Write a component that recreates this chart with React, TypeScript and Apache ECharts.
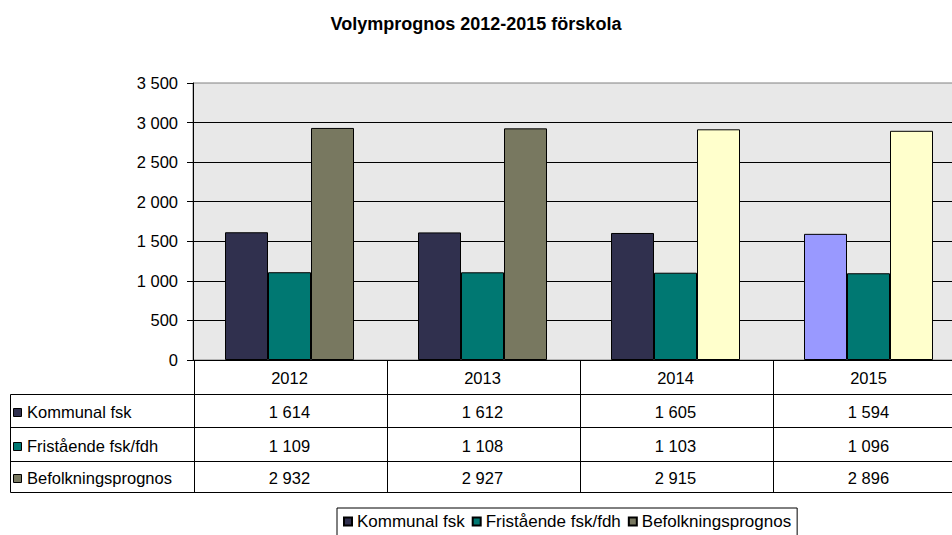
import React, { useEffect, useRef } from "react";
import * as echarts from "echarts";

const title = "Volymprognos 2012-2015 förskola";
const categories = ["2012", "2013", "2014", "2015"];
const seriesNames = ["Kommunal fsk", "Fristående fsk/fdh", "Befolkningsprognos"];
const kommunal = [1614, 1612, 1605, 1594];
const fristaende = [1109, 1108, 1103, 1096];
const befolkning = [2932, 2927, 2915, 2896];
const yMin = 0;
const yMax = 3500;
const yStep = 500;

const FONT = '"Liberation Sans", Arial, sans-serif';
const FS = 16.5;
const NAVY = "#30304e";
const PURPLE = "#9999ff";
const TEAL = "#007872";
const OLIVE = "#787860";
const YELLOW = "#ffffcc";

function fmt(v: number): string {
  if (v >= 1000) {
    return `${Math.floor(v / 1000)} ${String(v % 1000).padStart(3, "0")}`;
  }
  return String(v);
}

export default function App() {
  const ref = useRef<HTMLDivElement>(null);

  useEffect(() => {
    document.body.style.margin = "0";
    if (!ref.current) return;
    const chart = echarts.init(ref.current, null, { renderer: "svg" });

    const seriesData = [kommunal, fristaende, befolkning];
    const baseColors = [NAVY, TEAL, OLIVE];
    const overrides: Record<string, string> = {
      "0-3": PURPLE,
      "2-2": YELLOW,
      "2-3": YELLOW,
    };

    const series = seriesData.map((arr, si) => ({
      name: seriesNames[si],
      type: "bar",
      barWidth: 43,
      barGap: "0%",
      itemStyle: { color: baseColors[si], borderColor: "#000", borderWidth: 1 },
      data: arr.map((v, i) => {
        const c = overrides[`${si}-${i}`];
        return c ? { value: v, itemStyle: { color: c } } : v;
      }),
    }));

    const option: any = {
      animation: false,
      title: {
        text: title,
        left: "center",
        top: 10,
        textStyle: { fontFamily: FONT, fontSize: 18, fontWeight: "bold", color: "#000" },
      },
      grid: {
        left: 193,
        top: 83,
        width: 772,
        height: 277,
        outerBoundsMode: "none",
        containLabel: false,
        show: true,
        backgroundColor: "#e8e8e8",
        borderColor: "#808080",
        borderWidth: 1,
      },
      legend: {
        data: seriesNames,
        left: 337,
        top: 508,
        icon: "rect",
        itemWidth: 8,
        itemHeight: 8,
        itemGap: 7,
        padding: [5, 6, 12, 6],
        borderColor: "#000",
        borderWidth: 1,
        textStyle: { fontFamily: FONT, fontSize: 17, color: "#000" },
      },
      xAxis: {
        type: "category",
        data: categories,
        axisLine: { show: true, lineStyle: { color: "#000", width: 1 } },
        axisTick: { show: false },
        axisLabel: { show: false },
      },
      yAxis: {
        type: "value",
        min: yMin,
        max: yMax,
        interval: yStep,
        axisLine: { show: true, lineStyle: { color: "#000", width: 1 } },
        axisTick: { show: true, length: 6, lineStyle: { color: "#000" } },
        axisLabel: {
          margin: 15,
          fontFamily: FONT,
          fontSize: FS,
          color: "#000",
          formatter: (v: number) => fmt(v),
        },
        splitLine: { show: true, showMaxLine: false, lineStyle: { color: "#000", width: 1 } },
      },
      series,
    };

    chart.setOption(option);

    // Build data table below the plot using the axis scales
    const c0 = chart.convertToPixel({ xAxisIndex: 0 }, 0) as number;
    const c1 = chart.convertToPixel({ xAxisIndex: 0 }, 1) as number;
    const colW = c1 - c0;
    const yBase = Math.round(chart.convertToPixel({ yAxisIndex: 0 }, 0) as number) + 0.5;
    const rowLines = [yBase, yBase + 34, yBase + 67, yBase + 101, yBase + 132];
    const leftX = 10.5;
    const firstX = Math.round(c0 - colW / 2) + 0.5;
    const rightX = firstX + colW * categories.length;
    const stroke = { stroke: "#000", lineWidth: 1 };
    const graphics: any[] = [];
    const txt = (text: string, x: number, y: number, align: string) => ({
      type: "text",
      x,
      y,
      style: { text, fontFamily: FONT, fontSize: FS, fill: "#000", textAlign: align, textVerticalAlign: "middle" },
      silent: true,
    });

    rowLines.forEach((y, i) => {
      if (i === 0) return;
      graphics.push({ type: "line", shape: { x1: leftX, y1: y, x2: rightX, y2: y }, style: stroke, silent: true });
    });
    graphics.push({ type: "line", shape: { x1: leftX, y1: rowLines[1], x2: leftX, y2: rowLines[4] }, style: stroke, silent: true });
    for (let i = 0; i <= categories.length; i++) {
      const x = Math.round(firstX + colW * i) + 0.5;
      graphics.push({ type: "line", shape: { x1: x, y1: rowLines[0], x2: x, y2: rowLines[4] }, style: stroke, silent: true });
    }
    categories.forEach((cat, i) => {
      const cx = chart.convertToPixel({ xAxisIndex: 0 }, i) as number;
      graphics.push(txt(cat, cx, (rowLines[0] + rowLines[1]) / 2, "center"));
    });
    seriesData.forEach((arr, si) => {
      const cy = (rowLines[si + 1] + rowLines[si + 2]) / 2 + 1;
      graphics.push({
        type: "rect",
        shape: { x: 13.5, y: Math.round(cy - 4) + 0.5, width: 8, height: 8 },
        style: { fill: baseColors[si], stroke: "#000", lineWidth: 1 },
        silent: true,
      });
      graphics.push(txt(seriesNames[si], 27, cy, "left"));
      arr.forEach((v, i) => {
        const cx = chart.convertToPixel({ xAxisIndex: 0 }, i) as number;
        graphics.push(txt(fmt(v), cx, cy, "center"));
      });
    });

    chart.setOption({ graphic: graphics });

    return () => {
      chart.dispose();
    };
  }, []);

  return (
    <div
      ref={ref}
      style={{ position: "absolute", left: 0, top: 0, width: 952, height: 535, background: "#fff" }}
    />
  );
}
